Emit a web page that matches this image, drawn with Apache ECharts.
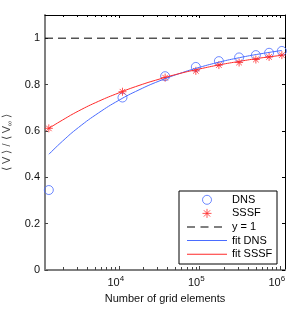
<!DOCTYPE html>
<html><head><meta charset="utf-8">
<script src="https://cdn.jsdelivr.net/npm/echarts@6/dist/echarts.min.js"></script>
<style>html,body{margin:0;padding:0;background:#fff}#c{width:296px;height:309px}</style>
</head><body><div id="c"></div>
<script>
// ---- data ----
const X_MIN = 1210, X_MAX = 1160000;
const Y_MIN = 0, Y_MAX = 1.1;
const gridElements = [1350, 11100, 37600, 90500, 175000, 312000, 504000, 736000, 1060000];
const dnsValues = [0.345, 0.744, 0.836, 0.876, 0.901, 0.917, 0.927, 0.937, 0.945];
const sssfValues = [0.611, 0.769, 0.830, 0.859, 0.884, 0.895, 0.908, 0.919, 0.927];
const fitX = [1350, 2000, 3160, 5620, 10000, 17800, 31600, 56200, 100000, 178000, 316000, 562000, 1060000];
const fitDnsValues = [0.499, 0.556, 0.615, 0.678, 0.732, 0.777, 0.815, 0.847, 0.874, 0.897, 0.916, 0.932, 0.947];
const fitSssfValues = [0.611, 0.647, 0.686, 0.728, 0.764, 0.796, 0.823, 0.847, 0.867, 0.885, 0.900, 0.914, 0.926];
const refLineX = [X_MIN, X_MAX];
const refLineY = [1, 1];
const majorTicks = [10000, 100000, 1000000];
const minorTicks = [2000, 3000, 4000, 5000, 6000, 7000, 8000, 9000,
  20000, 30000, 40000, 50000, 60000, 70000, 80000, 90000,
  200000, 300000, 400000, 500000, 600000, 700000, 800000, 900000];

const BLUE = '#4a6cff', RED = '#ff2a2a';
const FONT = 'Liberation Sans, Arial, sans-serif';
const STAR = 'path://M5,0L5,10M0,5L10,5M1.5,1.5L8.5,8.5M8.5,1.5L1.5,8.5';
const LINE_ICON = 'path://M0,0L40,0L40,1L0,1Z';
const DASH_ICON = 'path://M0,0h8v1h-8zM13.5,0h8v1h-8zM27,0h8v1h-8zM39.9,0h0.1v0.01h-0.1z';

// the x axis is a logarithmic axis: positions are log10 of the number of grid elements
const lg = v => Math.log10(v);
const zip = (xs, ys) => xs.map((x, i) => [lg(x), ys[i]]);

const chart = echarts.init(document.getElementById('c'), null, {renderer: 'canvas'});
const xLabelFmt = v => '{b|10}{s|' + Math.round(v) + '}';
chart.setOption({
  animation: false,
  backgroundColor: '#fff',
  grid: {left: 45, right: 11, top: 15, bottom: 39, containLabel: false, outerBoundsMode: 'none'},
  xAxis: [{
    type: 'value', min: lg(X_MIN), max: lg(X_MAX), position: 'bottom',
    name: 'Number of grid elements', nameLocation: 'middle', nameGap: 23,
    nameTextStyle: {fontSize: 11, color: '#111', fontFamily: FONT},
    axisLine: {show: true, onZero: false, lineStyle: {color: '#808080', width: 2}},
    axisTick: {show: true, inside: true, length: 4, lineStyle: {color: '#444'},
      customValues: majorTicks.map(lg)},
    splitLine: {show: false},
    axisLabel: {
      margin: 5, formatter: xLabelFmt, padding: [0, 6, 0, 0],
      customValues: majorTicks.map(lg),
      rich: {
        b: {fontSize: 11, color: '#111', fontFamily: FONT},
        s: {fontSize: 8, color: '#111', fontFamily: FONT, padding: [0, 0, 8, 0]}
      }
    }
  }, {
    type: 'value', min: lg(X_MIN), max: lg(X_MAX), position: 'top',
    axisLine: {show: true, onZero: false, lineStyle: {color: '#000', width: 1}},
    axisTick: {show: true, inside: true, length: 3, lineStyle: {color: '#000'},
      customValues: majorTicks.map(lg)},
    axisLabel: {show: false}, splitLine: {show: false}
  }],
  yAxis: [{
    type: 'value', min: Y_MIN, max: Y_MAX, interval: 0.2, position: 'left',
    name: '⟨ V ⟩ / ⟨ V{sub|∞} ⟩', nameLocation: 'middle', nameGap: 30, nameRotate: 90,
    nameTextStyle: {fontSize: 11, color: '#444', fontFamily: FONT,
      rich: {sub: {fontSize: 7, color: '#444', fontFamily: FONT, padding: [6, 0, 0, 0]}}},
    axisLine: {show: true, onZero: false, lineStyle: {color: '#808080', width: 2}},
    axisTick: {show: true, inside: true, length: 3, lineStyle: {color: '#444'}},
    splitLine: {show: false},
    axisLabel: {margin: 5, fontSize: 11, color: '#111', fontFamily: FONT, showMaxLabel: false}
  }, {
    type: 'value', min: Y_MIN, max: Y_MAX, interval: 0.2, position: 'right',
    axisLine: {show: true, onZero: false, lineStyle: {color: '#000', width: 1}},
    axisTick: {show: true, inside: true, length: 3, lineStyle: {color: '#000'}},
    axisLabel: {show: false}, splitLine: {show: false}
  }],
  legend: {
    orient: 'vertical', left: 179, top: 191, padding: [2, 4, 3, 8],
    itemGap: 0, itemWidth: 40, itemHeight: 9, symbolKeepAspect: true,
    borderColor: '#000', borderWidth: 1, borderRadius: 0, backgroundColor: '#fff',
    selectedMode: false,
    textStyle: {fontSize: 11, color: '#000', fontFamily: FONT, lineHeight: 13.6, width: 41, overflow: 'none'},
    data: [
      {name: 'DNS', icon: 'circle', itemStyle: {color: 'rgba(0,0,0,0)', borderColor: BLUE, borderWidth: 1}},
      {name: 'SSSF', icon: STAR, itemStyle: {color: 'rgba(0,0,0,0)', borderColor: RED, borderWidth: 1}},
      {name: 'y = 1', icon: DASH_ICON, itemStyle: {color: '#000', borderWidth: 0}},
      {name: 'fit DNS', icon: LINE_ICON, itemStyle: {color: BLUE, borderWidth: 0}},
      {name: 'fit SSSF', icon: LINE_ICON, itemStyle: {color: RED, borderWidth: 0}}
    ]
  },
  series: [{
    type: 'custom', name: 'minor', xAxisIndex: 0, yAxisIndex: 0, silent: true, clip: false,
    encode: {x: 0, y: 1},
    data: minorTicks.map(v => [lg(v), Y_MIN]),
    renderItem: (params, api) => {
      const v = api.value(0);
      const b = api.coord([v, Y_MIN]);
      const t = api.coord([v, Y_MAX]);
      const x = Math.round(b[0]) + 0.5;
      return {type: 'group', children: [
        {type: 'line', shape: {x1: x, y1: b[1], x2: x, y2: b[1] - 3}, style: {stroke: '#444', lineWidth: 1}},
        {type: 'line', shape: {x1: x, y1: t[1], x2: x, y2: t[1] + 2}, style: {stroke: '#000', lineWidth: 1}}
      ]};
    }
  }, {
    type: 'line', name: 'fit DNS', data: zip(fitX, fitDnsValues), smooth: true,
    symbol: 'none', lineStyle: {color: BLUE, width: 1}, itemStyle: {color: BLUE}
  }, {
    type: 'line', name: 'fit SSSF', data: zip(fitX, fitSssfValues), smooth: true,
    symbol: 'none', lineStyle: {color: RED, width: 1}, itemStyle: {color: RED}
  }, {
    type: 'line', name: 'y = 1', data: zip(refLineX, refLineY),
    symbol: 'none', lineStyle: {color: '#000', width: 1, type: [8, 5]}, itemStyle: {color: '#000'}
  }, {
    type: 'scatter', name: 'DNS', data: zip(gridElements, dnsValues),
    symbol: 'circle', symbolSize: 9,
    itemStyle: {color: 'rgba(0,0,0,0)', borderColor: BLUE, borderWidth: 1}
  }, {
    type: 'scatter', name: 'SSSF', data: zip(gridElements, sssfValues),
    symbol: STAR, symbolSize: 8,
    itemStyle: {color: 'rgba(0,0,0,0)', borderColor: RED, borderWidth: 1}
  }]
});
</script></body></html>
